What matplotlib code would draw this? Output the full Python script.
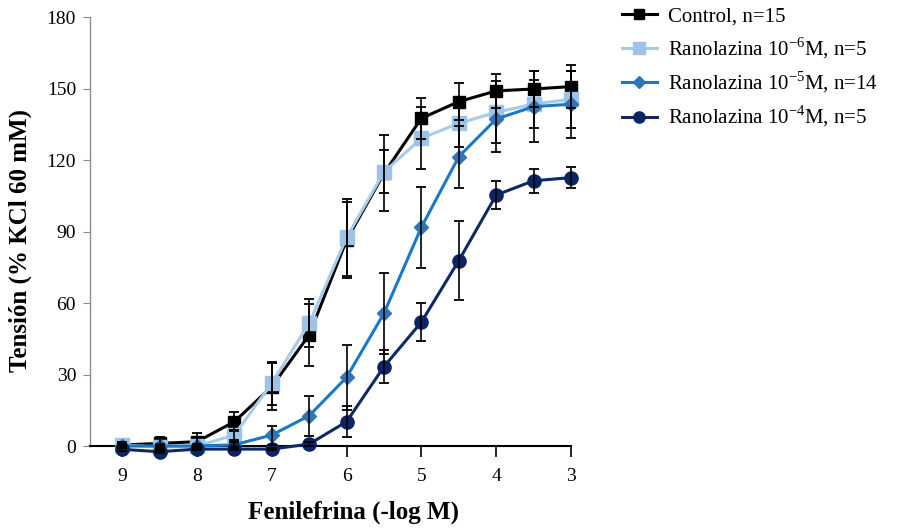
import matplotlib
matplotlib.use("Agg")
import matplotlib.pyplot as plt

plt.rcParams["font.family"] = ["Liberation Serif", "DejaVu Serif"]
plt.rcParams["mathtext.fontset"] = "custom"
plt.rcParams["mathtext.rm"] = "Liberation Serif"

# Fenilefrina (-log M)
dosis = [9, 8.5, 8, 7.5, 7, 6.5, 6, 5.5, 5, 4.5, 4, 3.5, 3]

control = [0.4, 1.1, 1.8, 10.2, 24.9, 46.6, 86.4, 114.4, 137.5, 144.5, 149.0, 149.8, 150.8]
control_err = [1.0, 2.5, 3.5, 4.0, 10.0, 13.0, 16.0, 16.0, 8.5, 7.7, 7.0, 7.6, 9.0]

ran6 = [0.5, -0.5, 0.0, 4.6, 26.3, 51.5, 87.5, 115.0, 129.1, 135.4, 140.0, 143.5, 145.5]
ran6_err = [1.0, 1.5, 1.0, 2.0, 9.0, 10.0, 16.0, 9.0, 13.0, 10.0, 13.0, 10.0, 12.0]

ran5 = [0.0, 0.0, 0.0, 0.5, 4.6, 12.7, 28.8, 55.7, 91.8, 121.4, 137.2, 142.4, 143.4]
ran5_err = [0.5, 0.5, 0.5, 1.0, 4.0, 8.4, 13.5, 17.0, 17.0, 13.0, 14.0, 15.0, 14.0]

ran4 = [-1.4, -2.4, -1.3, -1.3, -1.3, 0.8, 10.2, 33.3, 52.0, 77.8, 105.3, 111.3, 112.6]
ran4_err = [0.5, 0.5, 0.5, 0.5, 0.5, 1.0, 6.5, 7.0, 8.0, 16.5, 6.0, 5.0, 4.5]

etiquetas = [
    "Control, n=15",
    "Ranolazina 10$^{\\mathregular{-6}}$M, n=5",
    "Ranolazina 10$^{\\mathregular{-5}}$M, n=14",
    "Ranolazina 10$^{\\mathregular{-4}}$M, n=5",
]

fig = plt.figure(figsize=(8.97, 5.28), dpi=100)
ax = fig.add_axes([0.1003, 0.1553, 0.5363, 0.8125])

series = [
    (control, control_err, "#000000", "#000000", "s", 9),
    (ran6, ran6_err, "#A9CBEA", "#9DC3E6", "s", 9.5),
    (ran5, ran5_err, "#1A78C8", "#2E75B6", "D", 7.5),
    (ran4, ran4_err, "#0E2A66", "#0B2463", "o", 9.5),
]

handles = []
for i, (vals, err, lc, mc, mk, ms) in enumerate(series):
    (h,) = ax.plot(dosis, vals, color=lc, lw=2.2, marker=mk, ms=ms,
                   markerfacecolor=mc, markeredgecolor=mc, zorder=3 + i,
                   clip_on=False)
    handles.append(h)

for vals, err, lc, mc, mk, ms in series:
    ax.errorbar(dosis, vals, yerr=err, fmt="none", ecolor="black",
                elinewidth=1.2, capsize=3.5, capthick=1.3, zorder=10,
                clip_on=False)

ax.set_xlim(9.43, 3)
ax.set_ylim(0, 180)
ax.set_xticks([9, 8, 7, 6, 5, 4, 3])
ax.set_xticklabels(["9", "8", "7", "6", "5", "4", "3"])
ax.set_yticks([0, 30, 60, 90, 120, 150, 180])

ax.spines["top"].set_visible(False)
ax.spines["right"].set_visible(False)
ax.spines["left"].set_color("#8c8c8c")
ax.spines["left"].set_linewidth(1.0)
ax.spines["bottom"].set_color("black")
ax.spines["bottom"].set_linewidth(1.5)

ax.tick_params(axis="y", direction="out", length=5, color="#8c8c8c",
               labelsize=14, pad=5)
ax.tick_params(axis="x", direction="out", length=8, color="black",
               width=1.2, labelsize=14, pad=8)

ax.set_xlabel("Fenilefrina (-log M)", fontsize=18, fontweight="bold")
ax.set_ylabel("Tensión (% KCl 60 mM)", fontsize=18, fontweight="bold")
ax.xaxis.set_label_coords(0.547, -0.128)
ax.yaxis.set_label_coords(-0.12, 0.478)

fig.legend(handles, etiquetas, loc="upper left",
           bbox_to_anchor=(0.672, 1.022), frameon=False, fontsize=15,
           handlelength=1.7, handletextpad=0.55, labelspacing=0.42,
           markerscale=0.85)

fig.savefig("out.png", dpi=100)
